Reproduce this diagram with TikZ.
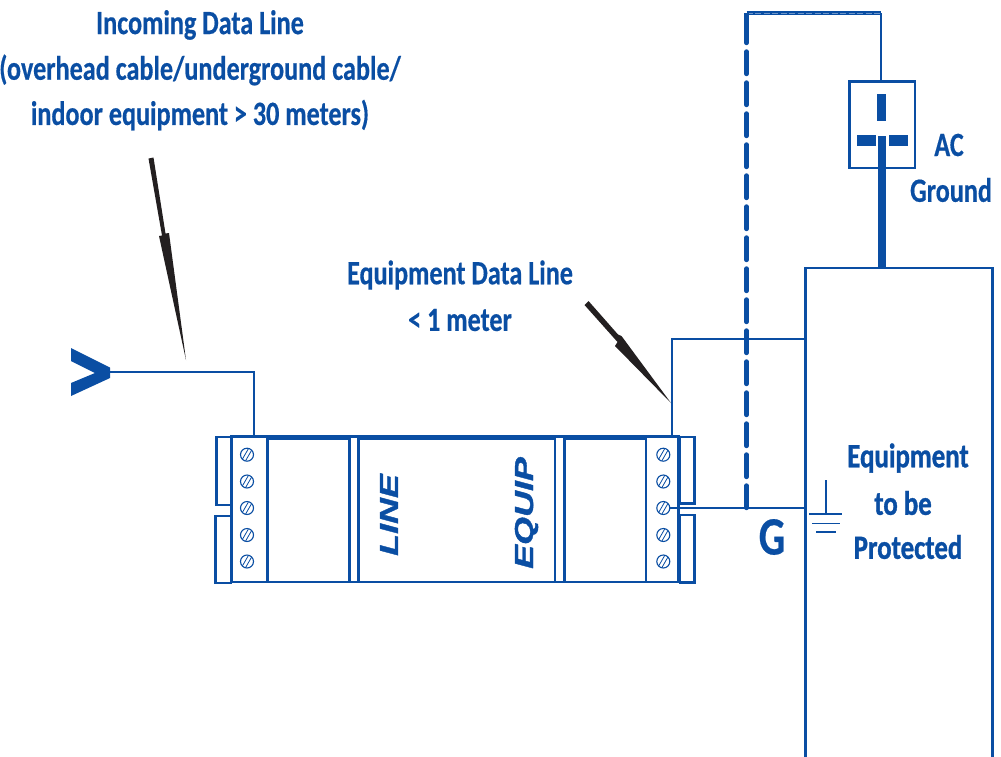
\documentclass[tikz,border=0pt]{standalone}
\usepackage{fontspec}
\setmainfont{Carlito}[FakeStretch=0.77,FakeBold=0.4]
\newfontfamily\blockfont{Carlito}[FakeStretch=0.79,FakeBold=1.0]
\newfontfamily\tagfont{Liberation Sans}[FakeStretch=1.38,FakeBold=1.5]
\definecolor{wire}{HTML}{0A4EA3}
\definecolor{pointer}{HTML}{231F20}
\tikzset{
  x=1pt,y=-1pt,
  every node/.style={inner sep=0pt,outer sep=0pt},
  labeltext/.style={text=wire,font=\fontsize{34}{36}\selectfont\bfseries,align=center},
  blocktext/.style={text=wire,font=\blockfont\fontsize{34}{36}\selectfont\bfseries,align=center},
  outline/.style={draw=wire,line width=2.2pt,rectangle},
  thinwire/.style={draw=wire,line width=1.7pt},
  tagtext/.style={text=wire,font=\tagfont\fontsize{26}{26}\selectfont\bfseries\itshape,rotate=90},
  pointerfill/.style={fill=pointer,draw=none},
  screwhead/.style={draw=wire,line width=1.1pt,circle,minimum size=13pt}
}
\newcommand{\bx}[6][]{\node[outline,#1,minimum width={#5-#3},minimum height={#6-#4}] (#2) at ({(#3+#5)/2},{(#4+#6)/2}) {};}
\newcommand{\screw}[3]{\node[screwhead] (#1) at (#2,#3) {};
  \draw[wire,line width=.8pt] (#2-4.6,#3+4.4) -- (#2+1.4,#3-6.0) (#2-1.4,#3+6.0) -- (#2+4.6,#3-4.4);}
\begin{document}
\begin{tikzpicture}
\clip (0,0) rectangle (1001,756);
\fill[white] (0,0) rectangle (1001,756);
% device
\bx{lefttabA}{216.5}{437}{231}{505}
\bx{lefttabB}{215.5}{516}{231}{583}
\bx{righttabA}{680}{437}{694.5}{503.5}
\bx{righttabB}{680}{515}{694.5}{582.5}
\bx[line width=2.6pt]{device}{231.5}{436.5}{679}{582}
\bx{panelL}{267.5}{439}{349.5}{582}
\bx{panelC}{358.5}{439}{555}{582}
\bx{panelR}{564.5}{439}{646}{582}
\draw[wire,line width=3pt] (678.5,436.5) -- (678.5,582);
\screw{sa}{247}{454.7}\screw{sb}{247}{481.5}\screw{sc}{247}{508}\screw{sd}{247}{535}\screw{se}{247}{561.5}
\screw{ra}{663.3}{454.7}\screw{rb}{663.3}{481.5}\screw{rc}{663.3}{508}\screw{rd}{663.3}{535}\screw{re}{663.3}{561.5}
\node[tagtext] (linetag) at (389,515) {LINE};
\node[tagtext] (equiptag) at (526.5,513) {EQUIP};
% equipment box
\node[outline,minimum width=187pt,minimum height=600pt] (equip) at (899,568) {};
% socket
\bx{socket}{849.5}{81.5}{915}{168}
\fill[wire] (877,94) rectangle (885.5,120.5);
\fill[wire] (857,135) rectangle (876,145.5);
\fill[wire] (888.5,135) rectangle (907.5,145.5);
\coordinate (pin) at (882,136);
\coordinate (topleft) at (746.5,13);
\coordinate (topright) at (881,13);
\coordinate (jct) at (746.5,508);
\draw[wire,line width=8pt] (pin) -- (pin |- equip.north);
\draw[thinwire] (socket.north -| topright) -- (topright);
\draw[wire,line width=4pt] (topleft) -- (topright);
\draw[wire!60!white,line width=.4pt,dash pattern=on 6pt off 2.5pt,line cap=butt] (topleft) -- (topright);
\draw[wire,line width=4.4pt,line cap=round,dash pattern=on 22.5pt off 8.5pt] (jct) -- (topleft);
\draw[wire,line width=4.4pt] (746.5,13) -- (746.5,28);
% wires
\coordinate (inp) at (110,372);
\coordinate (lt) at (254,436);
\coordinate (rt) at (672,436);
\coordinate (eq) at (807,339);
\draw[thinwire] (inp) -| (lt);
\draw[thinwire] (rt) |- (eq);
\draw[thinwire] (rc.east) -- (rc.east -| equip.west);
% chevron
\fill[wire] (71,348) -- (110,367.5) -- (110,378) -- (71,396) -- (71,383) -- (95,373) -- (71,361) -- cycle;
% ground
\coordinate (gnd) at (826,480);
\draw[wire,line width=1.5pt] (gnd) -- (826,514) (809,514) -- (842,514) (812,523.5) -- (840,523.5) (816,532) -- (836,532);
% pointers
\fill[pointerfill] (148.5,158.5) -- (153.5,157.5) -- (165.5,233.5) -- (169,233) -- (186,360) -- (159,236) -- (162,235.5) -- cycle;
\fill[pointerfill] (584.5,305) -- (588.5,301) -- (618,334.5) -- (621.5,336) -- (671,403) -- (615,346) -- (617.5,342) -- cycle;
% labels
\node[labeltext] (t1) at (200,25) {Incoming Data Line};
\node[labeltext] (t2) at (200,70) {(overhead cable/underground cable/};
\node[labeltext] (t3) at (200,115) {indoor equipment > 30 meters)};
\node[labeltext] (t4) at (460,275) {Equipment Data Line};
\node[labeltext] (t5) at (460,320) {< 1 meter};
\node[labeltext] (t6) at (949,145) {AC};
\node[labeltext] (t7) at (951,190) {Ground};
\node[blocktext] (t8) at (908,458) {Equipment};
\node[blocktext] (t9) at (903,503) {to be};
\node[blocktext] (t10) at (908,547) {Protected};
\node[labeltext,font=\fontsize{54}{54}\selectfont\bfseries] (g) at (772,537) {G};
\end{tikzpicture}
\end{document}
